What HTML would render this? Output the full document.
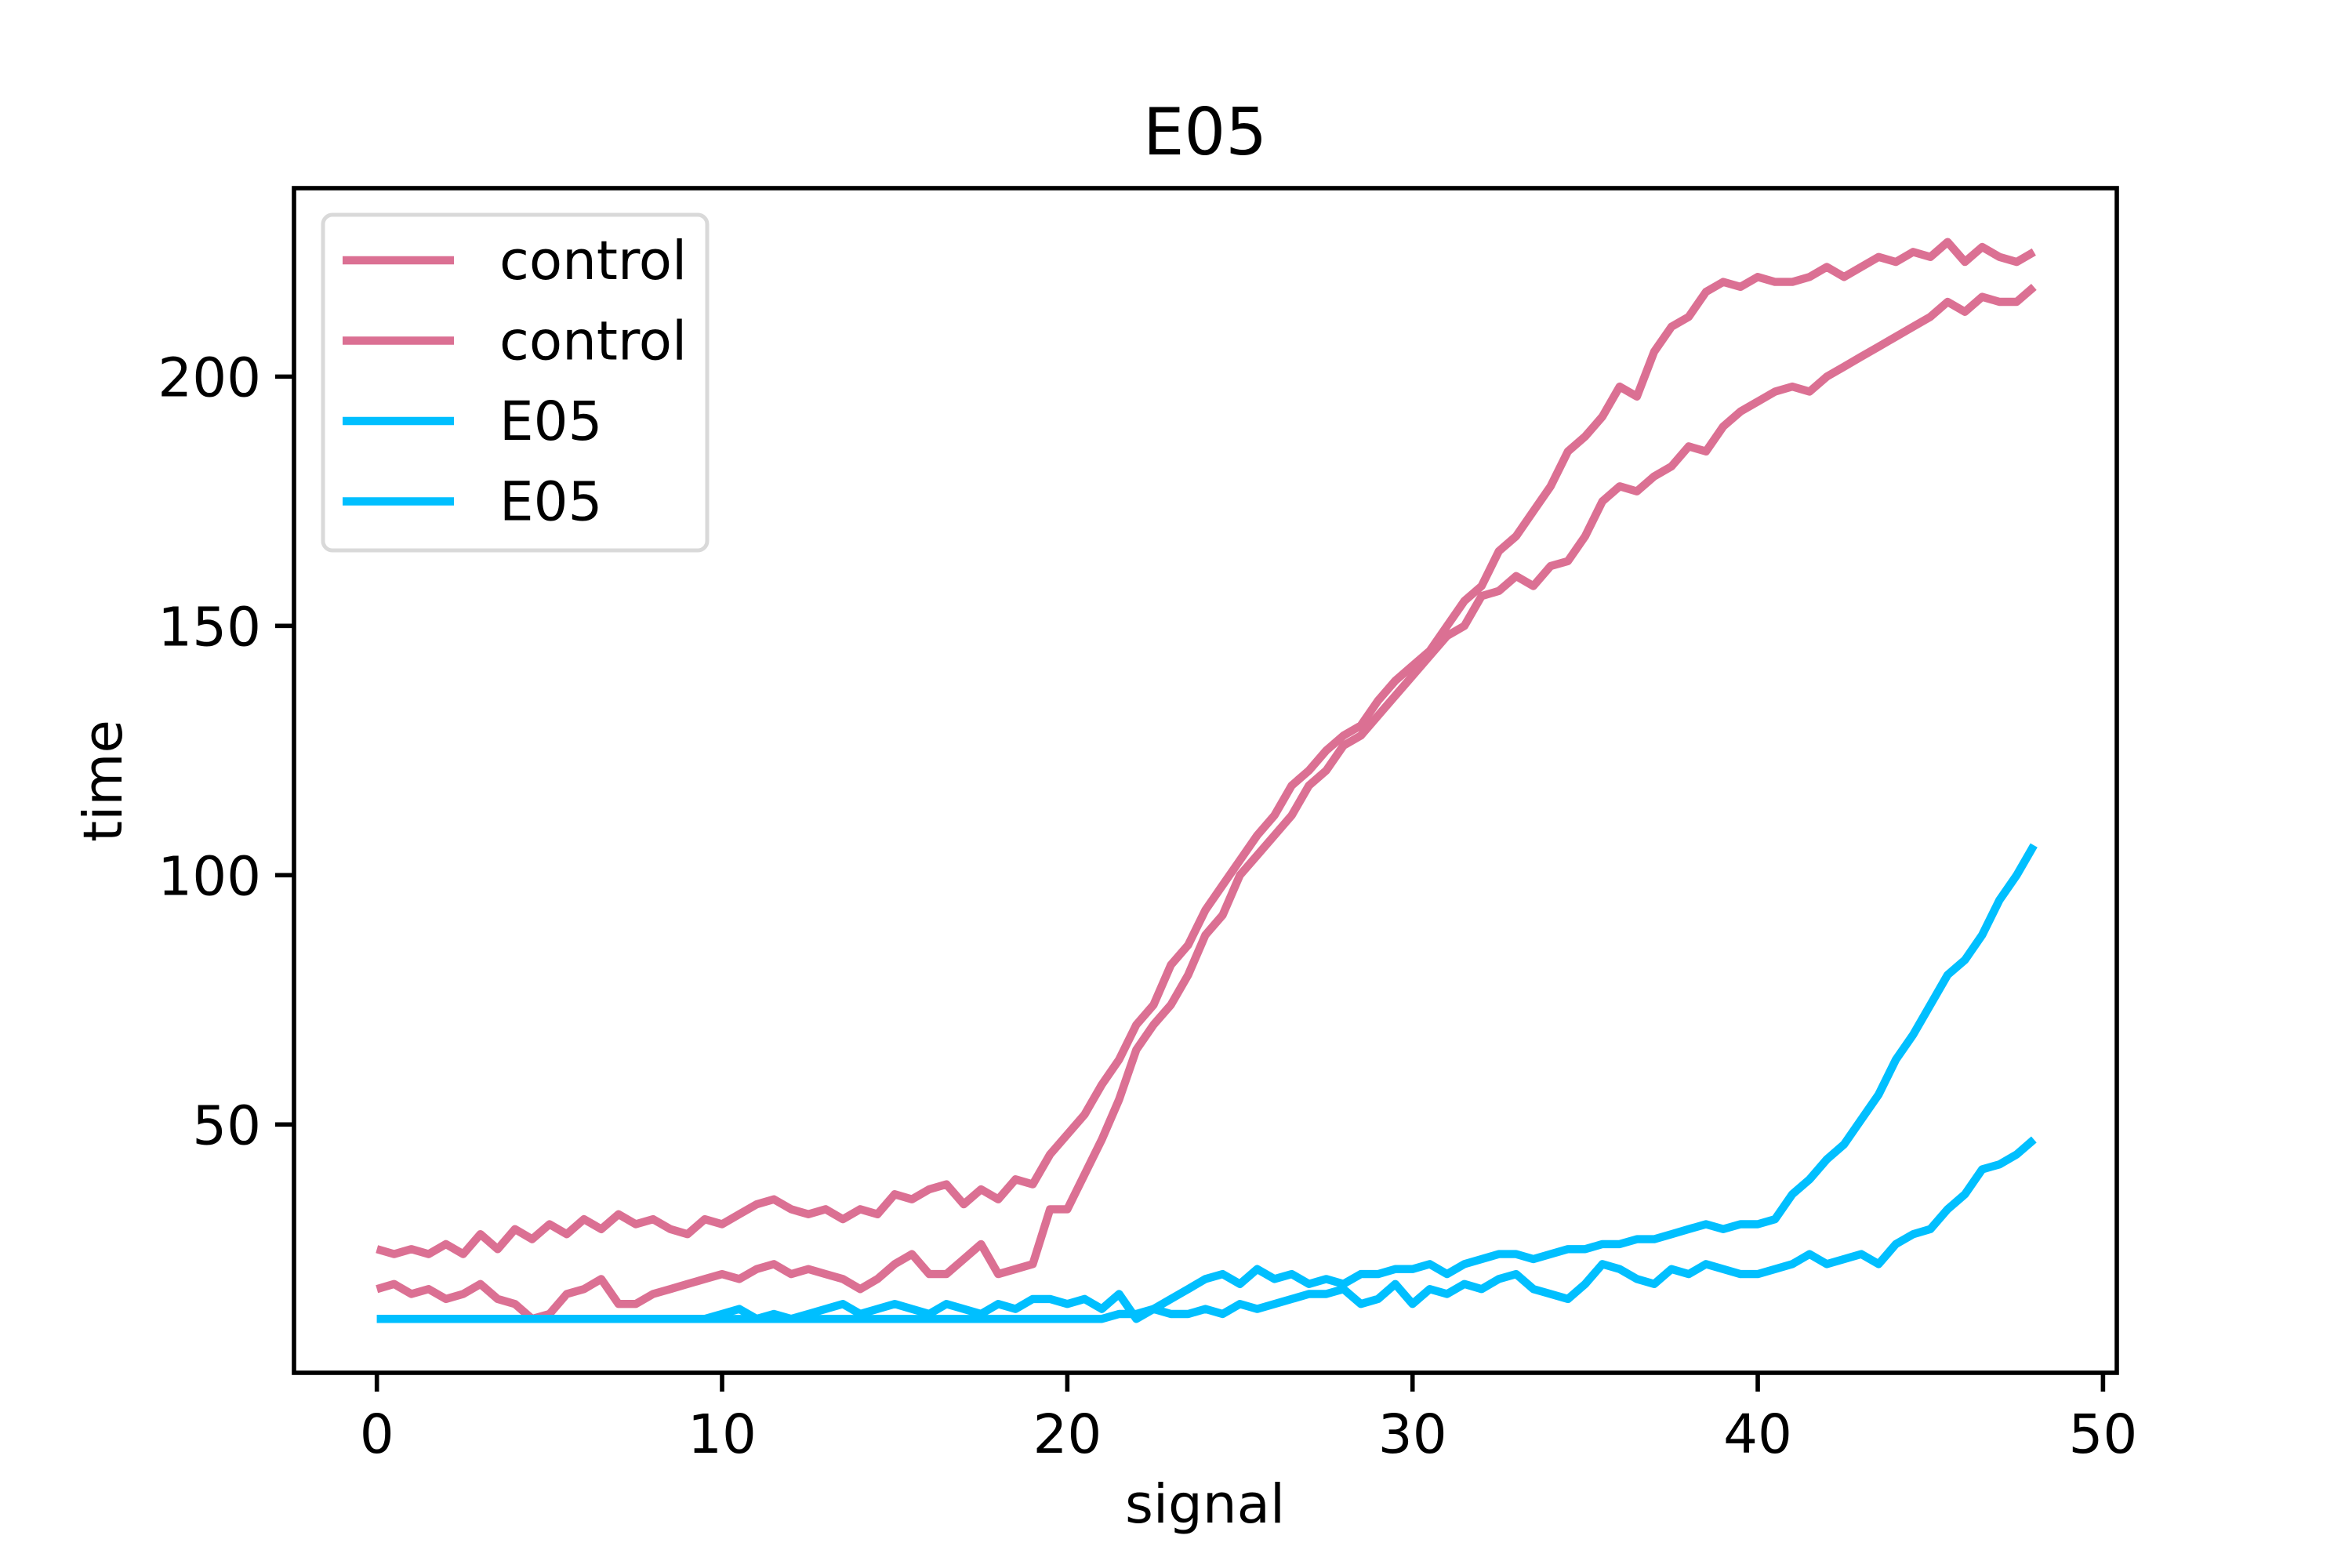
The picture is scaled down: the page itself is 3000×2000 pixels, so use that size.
<!DOCTYPE html>
<html><head><meta charset="utf-8"><style>
html,body{margin:0;padding:0;background:#fff}
svg{display:block}
text{font-family:"DejaVu Sans","Liberation Sans",sans-serif;fill:#000}
</style></head><body>
<svg id="chart" width="3000" height="2000" viewBox="0 0 3000 2000" xmlns="http://www.w3.org/2000/svg">
<rect width="3000" height="2000" fill="#fff"/>
<text x="1537" y="197" font-size="83" text-anchor="middle">E05</text>
<g id="series"></g>
<rect x="375" y="240" width="2325" height="1511" fill="none" stroke="#000" stroke-width="5.6"/>
<g id="xticks"></g>
<g id="yticks"></g>
<text x="1537" y="1942" font-size="69" text-anchor="middle">signal</text>
<text x="0" y="0" font-size="69" text-anchor="middle" transform="translate(155,996) rotate(-90)">time</text>
<g>
<rect x="412" y="274" width="490" height="428" rx="12" fill="#fff" fill-opacity="0.8" stroke="#d9d9d9" stroke-width="5"/>
<g id="legend-items"></g>
</g>
</svg>
<script>
const xs=[0,0.5,1,1.5,2,2.5,3,3.5,4,4.5,5,5.5,6,6.5,7,7.5,8,8.5,9,9.5,10,10.5,11,11.5,12,12.5,13,13.5,14,14.5,15,15.5,16,16.5,17,17.5,18,18.5,19,19.5,20,20.5,21,21.5,22,22.5,23,23.5,24,24.5,25,25.5,26,26.5,27,27.5,28,28.5,29,29.5,30,30.5,31,31.5,32,32.5,33,33.5,34,34.5,35,35.5,36,36.5,37,37.5,38,38.5,39,39.5,40,40.5,41,41.5,42,42.5,43,43.5,44,44.5,45,45.5,46,46.5,47,47.5,48];
const controlA=[25,24,25,24,26,24,28,25,29,27,30,28,31,29,32,30,31,29,28,31,30,32,34,35,33,32,33,31,33,32,36,35,37,38,34,37,35,39,38,44,48,52,58,63,70,74,82,86,93,98,103,108,112,118,121,125,128,130,135,139,142,145,150,155,158,165,168,173,178,185,188,192,198,196,205,210,212,217,219,218,220,219,219,220,222,220,222,224,223,225,224,227,223,226,224,223,225];
const controlB=[17,18,16,17,15,16,18,15,14,11,12,16,17,19,14,14,16,17,18,19,20,19,21,22,20,21,20,19,17,19,22,24,20,20,23,26,20,21,22,33,33,40,47,55,65,70,74,80,88,92,100,104,108,112,118,121,126,128,132,136,140,144,148,150,156,157,160,158,162,163,168,175,178,177,180,182,186,185,190,193,195,197,198,197,200,202,204,206,208,210,212,215,213,216,215,215,218];
const e05A=[11,11,11,11,11,11,11,11,11,11,11,11,11,11,11,11,11,11,11,11,11,11,11,11,11,11,11,11,11,11,11,11,11,11,11,11,11,11,11,11,11,11,11,12,12,13,15,17,19,20,18,21,19,20,18,19,18,20,20,21,21,22,20,22,23,24,24,23,24,25,25,26,26,27,27,28,29,30,29,30,30,31,36,39,43,46,51,56,63,68,74,80,83,88,95,100,106];
const e05B=[11,11,11,11,11,11,11,11,11,11,11,11,11,11,11,11,11,11,11,11,12,13,11,12,11,12,13,14,12,13,14,13,12,14,13,12,14,13,15,15,14,15,13,16,11,13,12,12,13,12,14,13,14,15,16,16,17,14,15,18,14,17,16,18,17,19,20,17,16,15,18,22,21,19,18,21,20,22,21,20,20,21,22,24,22,23,24,22,26,28,29,33,36,41,42,44,47];
const seriesNames=["control","control","E05","E05"];
const xTicks=[0,10,20,30,40,50];
const yTicks=[50,100,150,200];

const NS="http://www.w3.org/2000/svg";
const L=375,R=2700,T=240,B=1751;
const allY=[].concat(controlA,controlB,e05A,e05B);
const yMinD=Math.min(...allY),yMaxD=Math.max(...allY);
const yPad=(yMaxD-yMinD)*0.05;
const xMinD=Math.min(...xs),xMaxD=Math.max(...xs),xPad=(xMaxD-xMinD)*0.05;
const xScale=v=>L+(v-(xMinD-xPad))/((xMaxD+xPad)-(xMinD-xPad))*(R-L);
const yScale=v=>B-(v-(yMinD-yPad))/((yMaxD+yPad)-(yMinD-yPad))*(B-T);

const colors=["#db7093","#db7093","#00bfff","#00bfff"];
const data=[controlA,controlB,e05A,e05B];
const keys=["control-line-1","control-line-2","e05-line-1","e05-line-2"];
const sg=document.getElementById("series");
data.forEach((ys,k)=>{
  const p=document.createElementNS(NS,"polyline");
  p.setAttribute("points",ys.map((y,i)=>xScale(xs[i]).toFixed(1)+","+yScale(y).toFixed(1)).join(" "));
  p.setAttribute("fill","none");
  p.setAttribute("stroke",colors[k]);
  p.setAttribute("stroke-width","10.4");
  p.setAttribute("stroke-linejoin","round");
  
  
  sg.appendChild(p);
});
const xg=document.getElementById("xticks");
xTicks.forEach(t=>{
  const x=xScale(t);
  const l=document.createElementNS(NS,"line");
  l.setAttribute("x1",x);l.setAttribute("x2",x);l.setAttribute("y1",B);l.setAttribute("y2",B+24);
  l.setAttribute("stroke","#000");l.setAttribute("stroke-width","5.6");
  
  
  xg.appendChild(l);
  const tx=document.createElementNS(NS,"text");
  tx.setAttribute("x",x);tx.setAttribute("y",B+102);tx.setAttribute("font-size","69");tx.setAttribute("text-anchor","middle");
  tx.textContent=t;
  
  
  xg.appendChild(tx);
});
const yg=document.getElementById("yticks");
yTicks.forEach(t=>{
  const y=yScale(t);
  const l=document.createElementNS(NS,"line");
  l.setAttribute("x1",L-24);l.setAttribute("x2",L);l.setAttribute("y1",y);l.setAttribute("y2",y);
  l.setAttribute("stroke","#000");l.setAttribute("stroke-width","5.6");
  
  
  yg.appendChild(l);
  const tx=document.createElementNS(NS,"text");
  tx.setAttribute("x",L-42);tx.setAttribute("y",y+25);tx.setAttribute("font-size","69");tx.setAttribute("text-anchor","end");
  tx.textContent=t;
  
  
  yg.appendChild(tx);
});
const lg=document.getElementById("legend-items");
seriesNames.forEach((n,k)=>{
  const cy=332+k*102.5;
  const l=document.createElementNS(NS,"line");
  l.setAttribute("x1",437);l.setAttribute("x2",579);l.setAttribute("y1",cy);l.setAttribute("y2",cy);
  l.setAttribute("stroke",colors[k]);l.setAttribute("stroke-width","10.4");
  
  
  lg.appendChild(l);
  const tx=document.createElementNS(NS,"text");
  tx.setAttribute("x",637);tx.setAttribute("y",cy+24);tx.setAttribute("font-size","69");
  tx.textContent=n;
  
  
  lg.appendChild(tx);
});
</script>
</body></html>
